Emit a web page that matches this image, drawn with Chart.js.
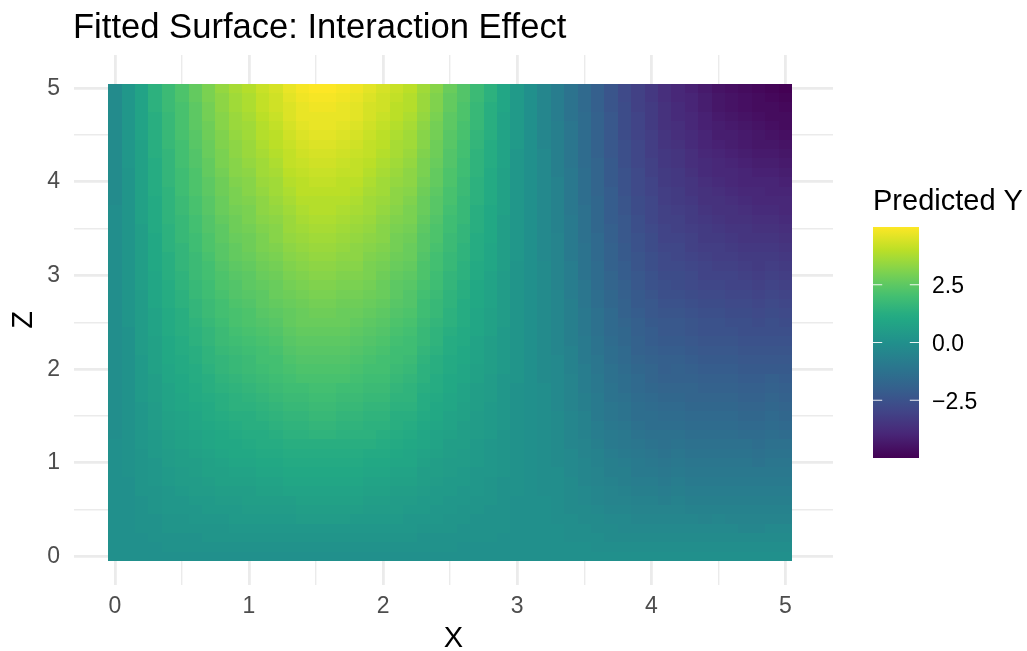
<!DOCTYPE html>
<html>
<head>
<meta charset="utf-8">
<script src="https://cdn.jsdelivr.net/npm/chart.js@4.4.1/dist/chart.umd.min.js"></script>
<style>
  html, body { margin: 0; padding: 0; background: #ffffff; }
  #wrap { width: 1027px; height: 651px; }
</style>
</head>
<body>
<div id="wrap"><canvas id="surface" width="1027" height="651"></canvas></div>
<script>
// grid of the fitted surface: columns = X, rows = Z
const xVals = [0, 0.1, 0.2, 0.3, 0.4, 0.5, 0.6, 0.7, 0.8, 0.9, 1, 1.1, 1.2, 1.3, 1.4, 1.5, 1.6, 1.7, 1.8, 1.9, 2, 2.1, 2.2, 2.3, 2.4, 2.5, 2.6, 2.7, 2.8, 2.9, 3, 3.1, 3.2, 3.3, 3.4, 3.5, 3.6, 3.7, 3.8, 3.9, 4, 4.1, 4.2, 4.3, 4.4, 4.5, 4.6, 4.7, 4.8, 4.9, 5];
const zVals = [0, 0.1, 0.2, 0.3, 0.4, 0.5, 0.6, 0.7, 0.8, 0.9, 1, 1.1, 1.2, 1.3, 1.4, 1.5, 1.6, 1.7, 1.8, 1.9, 2, 2.1, 2.2, 2.3, 2.4, 2.5, 2.6, 2.7, 2.8, 2.9, 3, 3.1, 3.2, 3.3, 3.4, 3.5, 3.6, 3.7, 3.8, 3.9, 4, 4.1, 4.2, 4.3, 4.4, 4.5, 4.6, 4.7, 4.8, 4.9, 5];

// predicted Y, one row per Z value (bottom row first)
const predY = [
  [0,0,0,0,0,0,0,0,0,0,0,0,0,0,0,0,0,0,0,0,0,0,0,0,0,0,0,0,0,0,0,0,0,0,0,0,0,0,0,0,0,0,0,0,0,0,0,0,0,0,0],
  [0,0,0,0,0.1,0.1,0.1,0.1,0.1,0.1,0.1,0.1,0.1,0.1,0.1,0.1,0.1,0.1,0.1,0.1,0.1,0.1,0.1,0.1,0.1,0.1,0,0,0,0,0,0,0,0,0,0,-0.1,-0.1,-0.1,-0.1,-0.1,-0.1,-0.1,-0.1,-0.1,-0.1,-0.1,-0.1,-0.1,-0.1,-0.1],
  [0,0,0,0.1,0.1,0.1,0.1,0.2,0.2,0.2,0.2,0.2,0.2,0.2,0.2,0.2,0.2,0.2,0.2,0.2,0.2,0.2,0.2,0.1,0.1,0.1,0.1,0.1,0.1,0,0,0,0,0,-0.1,-0.1,-0.1,-0.2,-0.2,-0.2,-0.2,-0.2,-0.2,-0.2,-0.2,-0.2,-0.2,-0.2,-0.2,-0.2,-0.2],
  [0,0,0.1,0.1,0.2,0.2,0.2,0.2,0.2,0.3,0.3,0.3,0.3,0.3,0.3,0.3,0.3,0.3,0.3,0.3,0.3,0.3,0.3,0.2,0.2,0.2,0.1,0.1,0.1,0.1,0,0,0,0,-0.1,-0.1,-0.2,-0.2,-0.3,-0.3,-0.3,-0.3,-0.3,-0.3,-0.3,-0.3,-0.3,-0.4,-0.4,-0.3,-0.3],
  [0,0,0.1,0.1,0.2,0.2,0.3,0.3,0.3,0.4,0.4,0.4,0.4,0.4,0.5,0.5,0.5,0.5,0.4,0.4,0.4,0.4,0.3,0.3,0.3,0.2,0.2,0.1,0.1,0.1,0,0,0,-0.1,-0.1,-0.2,-0.2,-0.3,-0.3,-0.4,-0.4,-0.4,-0.4,-0.4,-0.5,-0.4,-0.5,-0.5,-0.5,-0.5,-0.5],
  [0,0,0.1,0.2,0.3,0.3,0.3,0.4,0.4,0.4,0.5,0.5,0.5,0.5,0.6,0.6,0.6,0.6,0.6,0.5,0.5,0.5,0.4,0.4,0.3,0.3,0.2,0.2,0.1,0.1,0,0,0,-0.1,-0.2,-0.2,-0.3,-0.4,-0.4,-0.5,-0.5,-0.5,-0.5,-0.6,-0.6,-0.6,-0.6,-0.6,-0.6,-0.6,-0.6],
  [0,0,0.1,0.2,0.3,0.3,0.4,0.4,0.5,0.5,0.6,0.6,0.6,0.6,0.7,0.7,0.7,0.7,0.7,0.6,0.6,0.5,0.5,0.4,0.4,0.3,0.3,0.2,0.2,0.1,0,0,0,-0.1,-0.2,-0.3,-0.4,-0.5,-0.5,-0.6,-0.6,-0.7,-0.6,-0.7,-0.7,-0.7,-0.7,-0.7,-0.7,-0.7,-0.7],
  [0,0,0.2,0.2,0.3,0.4,0.5,0.5,0.6,0.6,0.6,0.7,0.7,0.8,0.8,0.8,0.8,0.8,0.8,0.7,0.7,0.6,0.6,0.5,0.4,0.4,0.3,0.3,0.2,0.1,0.1,0,-0.1,-0.1,-0.2,-0.3,-0.4,-0.5,-0.6,-0.7,-0.7,-0.8,-0.7,-0.8,-0.8,-0.8,-0.8,-0.8,-0.8,-0.8,-0.8],
  [0,0,0.2,0.3,0.4,0.5,0.5,0.6,0.7,0.7,0.7,0.8,0.8,0.9,0.9,0.9,0.9,0.9,0.9,0.8,0.8,0.7,0.7,0.6,0.5,0.4,0.4,0.3,0.2,0.1,0.1,0,-0.1,-0.1,-0.2,-0.4,-0.5,-0.6,-0.7,-0.8,-0.8,-0.9,-0.8,-0.9,-0.9,-0.9,-0.9,-0.9,-0.9,-0.9,-0.9],
  [0,0.1,0.2,0.3,0.4,0.5,0.6,0.7,0.7,0.8,0.8,0.9,0.9,1,1,1,1,1,1,0.9,0.9,0.8,0.8,0.6,0.6,0.5,0.4,0.3,0.3,0.2,0.1,0,-0.1,-0.1,-0.3,-0.4,-0.5,-0.7,-0.7,-0.9,-0.9,-1,-0.9,-1,-1,-1,-1,-1,-1,-1,-1],
  [0,0.1,0.2,0.3,0.5,0.6,0.6,0.7,0.8,0.9,0.9,1,1,1.1,1.1,1.1,1.1,1.1,1.1,1,1,0.9,0.9,0.7,0.6,0.5,0.5,0.4,0.3,0.2,0.1,0,-0.1,-0.2,-0.3,-0.4,-0.6,-0.7,-0.8,-0.9,-1,-1.1,-1,-1.1,-1.1,-1.1,-1.1,-1.1,-1.2,-1.1,-1.1],
  [0,0.1,0.2,0.4,0.5,0.6,0.7,0.8,0.9,1,1,1.1,1.1,1.2,1.2,1.2,1.2,1.2,1.2,1.1,1.1,1,0.9,0.8,0.7,0.6,0.5,0.4,0.3,0.2,0.1,0,-0.1,-0.2,-0.3,-0.5,-0.6,-0.8,-0.9,-1,-1.1,-1.2,-1.1,-1.2,-1.2,-1.2,-1.2,-1.2,-1.3,-1.2,-1.2],
  [0,0.1,0.3,0.4,0.6,0.7,0.8,0.9,1,1,1.1,1.2,1.2,1.3,1.3,1.3,1.3,1.3,1.3,1.3,1.2,1.1,1,0.9,0.8,0.6,0.6,0.4,0.3,0.2,0.1,0,-0.1,-0.2,-0.4,-0.5,-0.7,-0.9,-1,-1.1,-1.2,-1.3,-1.2,-1.3,-1.3,-1.3,-1.3,-1.3,-1.4,-1.3,-1.3],
  [-0.1,0.1,0.3,0.4,0.6,0.7,0.8,0.9,1,1.1,1.2,1.2,1.3,1.4,1.4,1.5,1.5,1.4,1.4,1.4,1.3,1.2,1.1,0.9,0.8,0.7,0.6,0.5,0.4,0.2,0.1,0,-0.1,-0.2,-0.4,-0.6,-0.8,-0.9,-1,-1.2,-1.3,-1.3,-1.3,-1.4,-1.4,-1.4,-1.4,-1.5,-1.5,-1.4,-1.5],
  [-0.1,0.1,0.3,0.5,0.7,0.8,0.9,1,1.1,1.2,1.3,1.3,1.4,1.5,1.5,1.6,1.6,1.5,1.5,1.4,1.4,1.3,1.2,1,0.9,0.8,0.6,0.5,0.4,0.3,0.1,0,-0.1,-0.2,-0.4,-0.6,-0.8,-1,-1.1,-1.3,-1.4,-1.4,-1.4,-1.5,-1.5,-1.5,-1.5,-1.6,-1.6,-1.5,-1.6],
  [-0.1,0.1,0.3,0.5,0.7,0.8,0.9,1.1,1.2,1.3,1.3,1.4,1.5,1.6,1.6,1.7,1.7,1.6,1.6,1.5,1.5,1.3,1.3,1.1,1,0.8,0.7,0.5,0.4,0.3,0.1,0,-0.1,-0.2,-0.4,-0.6,-0.9,-1.1,-1.2,-1.4,-1.4,-1.5,-1.5,-1.6,-1.6,-1.6,-1.6,-1.7,-1.7,-1.6,-1.7],
  [-0.1,0.1,0.3,0.5,0.8,0.9,1,1.1,1.3,1.4,1.4,1.5,1.6,1.7,1.7,1.8,1.8,1.7,1.7,1.6,1.6,1.4,1.4,1.2,1,0.9,0.7,0.6,0.4,0.3,0.1,0,-0.1,-0.3,-0.5,-0.7,-0.9,-1.1,-1.2,-1.4,-1.5,-1.6,-1.6,-1.7,-1.7,-1.7,-1.7,-1.8,-1.8,-1.7,-1.8],
  [-0.1,0.1,0.4,0.6,0.8,0.9,1.1,1.2,1.3,1.4,1.5,1.6,1.7,1.8,1.8,1.9,1.9,1.8,1.8,1.7,1.7,1.5,1.5,1.2,1.1,0.9,0.8,0.6,0.5,0.3,0.1,0,-0.1,-0.3,-0.5,-0.7,-0.9,-1.2,-1.3,-1.5,-1.6,-1.7,-1.7,-1.8,-1.8,-1.8,-1.8,-1.9,-1.9,-1.8,-1.9],
  [-0.1,0.1,0.4,0.6,0.8,1,1.1,1.3,1.4,1.5,1.6,1.7,1.8,1.9,1.9,2,2,1.9,1.9,1.8,1.8,1.6,1.5,1.3,1.2,1,0.8,0.6,0.5,0.3,0.1,0,-0.1,-0.3,-0.5,-0.8,-1,-1.2,-1.4,-1.6,-1.7,-1.8,-1.8,-1.8,-1.9,-1.9,-1.9,-2,-2,-1.9,-2],
  [-0.1,0.1,0.4,0.6,0.9,1,1.2,1.3,1.5,1.6,1.7,1.8,1.9,2,2.1,2.1,2.1,2.1,2,1.9,1.9,1.7,1.6,1.4,1.2,1,0.9,0.7,0.5,0.3,0.2,0,-0.2,-0.3,-0.5,-0.8,-1,-1.3,-1.4,-1.6,-1.8,-1.9,-1.9,-1.9,-2,-2,-2,-2.1,-2.1,-2,-2.1],
  [-0.1,0.1,0.4,0.7,0.9,1.1,1.2,1.4,1.6,1.7,1.8,1.9,2,2.1,2.2,2.2,2.2,2.2,2.1,2,2,1.8,1.7,1.4,1.3,1.1,0.9,0.7,0.6,0.4,0.2,0,-0.2,-0.3,-0.6,-0.8,-1.1,-1.3,-1.5,-1.7,-1.8,-2,-1.9,-2,-2.1,-2.1,-2.1,-2.2,-2.2,-2.2,-2.2],
  [-0.1,0.1,0.4,0.7,1,1.1,1.3,1.5,1.6,1.7,1.8,2,2,2.2,2.3,2.3,2.3,2.3,2.2,2.1,2,1.9,1.8,1.5,1.3,1.1,1,0.8,0.6,0.4,0.2,0,-0.2,-0.3,-0.6,-0.9,-1.1,-1.4,-1.6,-1.8,-1.9,-2,-2,-2.1,-2.2,-2.2,-2.2,-2.3,-2.3,-2.3,-2.3],
  [-0.1,0.1,0.5,0.7,1,1.2,1.3,1.5,1.7,1.8,1.9,2,2.1,2.3,2.4,2.4,2.4,2.4,2.3,2.2,2.1,1.9,1.9,1.6,1.4,1.2,1,0.8,0.6,0.4,0.2,0,-0.2,-0.4,-0.6,-0.9,-1.2,-1.4,-1.6,-1.9,-2,-2.1,-2.1,-2.2,-2.3,-2.3,-2.3,-2.4,-2.4,-2.4,-2.4],
  [-0.1,0.1,0.5,0.7,1,1.2,1.4,1.6,1.8,1.9,2,2.1,2.2,2.4,2.5,2.5,2.5,2.5,2.4,2.3,2.2,2,1.9,1.7,1.5,1.2,1.1,0.8,0.6,0.4,0.2,0,-0.2,-0.4,-0.7,-0.9,-1.2,-1.5,-1.7,-1.9,-2.1,-2.2,-2.2,-2.3,-2.4,-2.4,-2.4,-2.5,-2.5,-2.5,-2.5],
  [-0.1,0.1,0.5,0.8,1.1,1.3,1.4,1.6,1.8,2,2.1,2.2,2.3,2.5,2.6,2.6,2.6,2.6,2.5,2.4,2.3,2.1,2,1.7,1.5,1.3,1.1,0.9,0.7,0.4,0.2,0,-0.2,-0.4,-0.7,-1,-1.3,-1.6,-1.7,-2,-2.1,-2.3,-2.3,-2.4,-2.5,-2.5,-2.5,-2.6,-2.6,-2.6,-2.6],
  [-0.1,0.2,0.5,0.8,1.1,1.3,1.5,1.7,1.9,2.1,2.2,2.3,2.4,2.6,2.7,2.7,2.7,2.7,2.6,2.5,2.4,2.2,2.1,1.8,1.6,1.4,1.2,0.9,0.7,0.5,0.2,0,-0.2,-0.4,-0.7,-1,-1.3,-1.6,-1.8,-2,-2.2,-2.3,-2.3,-2.4,-2.5,-2.5,-2.6,-2.6,-2.7,-2.6,-2.7],
  [-0.1,0.2,0.5,0.8,1.1,1.3,1.6,1.8,2,2.1,2.2,2.4,2.5,2.6,2.7,2.8,2.8,2.7,2.7,2.6,2.5,2.3,2.2,1.9,1.7,1.4,1.2,0.9,0.7,0.5,0.2,0,-0.2,-0.4,-0.7,-1,-1.3,-1.6,-1.9,-2.1,-2.3,-2.4,-2.4,-2.5,-2.6,-2.6,-2.7,-2.7,-2.8,-2.7,-2.8],
  [-0.1,0.2,0.5,0.9,1.2,1.4,1.6,1.8,2,2.2,2.3,2.5,2.6,2.7,2.8,2.9,2.9,2.8,2.8,2.7,2.6,2.4,2.3,1.9,1.7,1.5,1.2,1,0.8,0.5,0.2,0,-0.2,-0.4,-0.7,-1.1,-1.4,-1.7,-1.9,-2.2,-2.3,-2.5,-2.5,-2.6,-2.7,-2.7,-2.8,-2.8,-2.9,-2.8,-2.9],
  [-0.1,0.2,0.5,0.9,1.2,1.4,1.7,1.9,2.1,2.3,2.4,2.5,2.7,2.8,2.9,3,3,2.9,2.9,2.8,2.7,2.5,2.3,2,1.8,1.5,1.3,1,0.8,0.5,0.2,0,-0.2,-0.4,-0.8,-1.1,-1.4,-1.7,-2,-2.2,-2.4,-2.6,-2.6,-2.7,-2.8,-2.8,-2.9,-2.9,-3,-2.9,-3],
  [-0.1,0.2,0.6,0.9,1.2,1.5,1.7,1.9,2.2,2.3,2.5,2.6,2.7,2.9,3,3.1,3.1,3,3,2.9,2.7,2.5,2.4,2.1,1.9,1.6,1.3,1,0.8,0.5,0.2,0,-0.2,-0.5,-0.8,-1.1,-1.5,-1.8,-2,-2.3,-2.5,-2.6,-2.7,-2.8,-2.9,-2.9,-3,-3,-3.1,-3,-3.1],
  [-0.1,0.2,0.6,0.9,1.3,1.5,1.8,2,2.2,2.4,2.5,2.7,2.8,3,3.1,3.2,3.2,3.1,3.1,3,2.8,2.6,2.5,2.2,1.9,1.6,1.4,1.1,0.8,0.5,0.2,0,-0.2,-0.5,-0.8,-1.2,-1.5,-1.8,-2.1,-2.3,-2.5,-2.7,-2.7,-2.8,-3,-3,-3,-3.1,-3.2,-3.1,-3.2],
  [-0.1,0.2,0.6,1,1.3,1.6,1.8,2,2.3,2.5,2.6,2.8,2.9,3.1,3.2,3.3,3.3,3.2,3.2,3,2.9,2.7,2.6,2.2,2,1.7,1.4,1.1,0.9,0.6,0.2,0,-0.2,-0.5,-0.8,-1.2,-1.5,-1.9,-2.1,-2.4,-2.6,-2.8,-2.8,-2.9,-3,-3.1,-3.1,-3.2,-3.3,-3.2,-3.3],
  [-0.1,0.2,0.6,1,1.3,1.6,1.8,2.1,2.4,2.6,2.7,2.9,3,3.2,3.3,3.4,3.4,3.3,3.3,3.1,3,2.8,2.7,2.3,2,1.7,1.5,1.2,0.9,0.6,0.3,0,-0.3,-0.5,-0.9,-1.2,-1.6,-1.9,-2.2,-2.4,-2.6,-2.8,-2.9,-3,-3.1,-3.2,-3.2,-3.3,-3.3,-3.3,-3.4],
  [-0.1,0.2,0.6,1,1.4,1.6,1.9,2.2,2.4,2.6,2.8,3,3.1,3.3,3.4,3.5,3.5,3.4,3.3,3.2,3.1,2.9,2.7,2.4,2.1,1.8,1.5,1.2,0.9,0.6,0.3,0,-0.3,-0.5,-0.9,-1.2,-1.6,-1.9,-2.2,-2.5,-2.7,-2.9,-2.9,-3.1,-3.2,-3.2,-3.3,-3.4,-3.4,-3.4,-3.5],
  [-0.1,0.2,0.6,1,1.4,1.7,1.9,2.2,2.5,2.7,2.8,3,3.2,3.4,3.5,3.6,3.6,3.5,3.4,3.3,3.2,2.9,2.8,2.4,2.2,1.8,1.6,1.2,1,0.6,0.3,0,-0.3,-0.5,-0.9,-1.3,-1.6,-2,-2.3,-2.5,-2.7,-3,-3,-3.1,-3.3,-3.3,-3.4,-3.5,-3.5,-3.5,-3.6],
  [-0.1,0.2,0.6,1.1,1.4,1.7,2,2.3,2.5,2.8,2.9,3.1,3.2,3.5,3.6,3.7,3.7,3.6,3.5,3.4,3.2,3,2.9,2.5,2.2,1.9,1.6,1.3,1,0.6,0.3,0,-0.3,-0.6,-0.9,-1.3,-1.7,-2,-2.3,-2.6,-2.8,-3,-3.1,-3.2,-3.3,-3.4,-3.5,-3.5,-3.6,-3.6,-3.7],
  [-0.1,0.2,0.7,1.1,1.5,1.7,2,2.3,2.6,2.8,3,3.2,3.3,3.5,3.7,3.8,3.8,3.7,3.6,3.5,3.3,3.1,3,2.6,2.3,1.9,1.7,1.3,1,0.6,0.3,0,-0.3,-0.6,-0.9,-1.3,-1.7,-2.1,-2.3,-2.6,-2.9,-3.1,-3.1,-3.3,-3.4,-3.5,-3.6,-3.6,-3.7,-3.7,-3.8],
  [-0.1,0.2,0.7,1.1,1.5,1.8,2.1,2.4,2.7,2.9,3,3.3,3.4,3.6,3.8,3.9,3.9,3.8,3.7,3.6,3.4,3.2,3,2.7,2.4,2,1.7,1.3,1,0.7,0.3,0,-0.3,-0.6,-1,-1.3,-1.7,-2.1,-2.4,-2.7,-2.9,-3.1,-3.2,-3.3,-3.5,-3.6,-3.6,-3.7,-3.8,-3.8,-3.9],
  [-0.2,0.2,0.7,1.1,1.5,1.8,2.1,2.4,2.7,3,3.1,3.3,3.5,3.7,3.9,3.9,3.9,3.9,3.8,3.6,3.5,3.3,3.1,2.7,2.4,2.1,1.7,1.4,1.1,0.7,0.3,0,-0.3,-0.6,-1,-1.4,-1.7,-2.1,-2.4,-2.7,-2.9,-3.2,-3.3,-3.4,-3.6,-3.6,-3.7,-3.8,-3.9,-3.9,-3.9],
  [-0.2,0.2,0.7,1.2,1.5,1.9,2.2,2.5,2.8,3,3.2,3.4,3.6,3.8,4,4,4,4,3.9,3.7,3.6,3.3,3.2,2.8,2.5,2.1,1.8,1.4,1.1,0.7,0.3,0,-0.3,-0.6,-1,-1.4,-1.8,-2.1,-2.5,-2.8,-3,-3.2,-3.3,-3.5,-3.6,-3.7,-3.8,-3.9,-3.9,-4,-4],
  [-0.2,0.2,0.7,1.2,1.6,1.9,2.2,2.5,2.8,3.1,3.2,3.5,3.6,3.9,4,4.1,4.1,4,4,3.8,3.6,3.4,3.3,2.9,2.6,2.2,1.8,1.4,1.1,0.7,0.3,0,-0.3,-0.6,-1,-1.4,-1.8,-2.2,-2.5,-2.8,-3,-3.3,-3.4,-3.5,-3.7,-3.8,-3.9,-4,-4,-4,-4.1],
  [-0.2,0.2,0.7,1.2,1.6,1.9,2.2,2.6,2.9,3.2,3.3,3.6,3.7,4,4.1,4.2,4.2,4.1,4.1,3.9,3.7,3.5,3.3,3,2.6,2.2,1.9,1.5,1.1,0.7,0.3,0,-0.3,-0.7,-1,-1.4,-1.8,-2.2,-2.5,-2.8,-3.1,-3.3,-3.4,-3.6,-3.8,-3.9,-3.9,-4,-4.1,-4.1,-4.2],
  [-0.2,0.3,0.7,1.2,1.6,2,2.3,2.6,3,3.2,3.4,3.6,3.8,4.1,4.2,4.3,4.3,4.2,4.1,4,3.8,3.6,3.4,3,2.7,2.3,1.9,1.5,1.2,0.8,0.3,0,-0.3,-0.7,-1.1,-1.5,-1.8,-2.2,-2.6,-2.9,-3.1,-3.4,-3.5,-3.7,-3.8,-3.9,-4,-4.1,-4.2,-4.2,-4.3],
  [-0.2,0.3,0.7,1.3,1.6,2,2.3,2.7,3,3.3,3.5,3.7,3.9,4.1,4.3,4.4,4.4,4.3,4.2,4.1,3.9,3.7,3.5,3.1,2.8,2.3,2,1.5,1.2,0.8,0.3,0,-0.3,-0.7,-1.1,-1.5,-1.9,-2.3,-2.6,-2.9,-3.2,-3.4,-3.5,-3.7,-3.9,-4,-4.1,-4.2,-4.3,-4.3,-4.4],
  [-0.2,0.3,0.7,1.3,1.7,2,2.4,2.7,3.1,3.3,3.5,3.8,4,4.2,4.4,4.5,4.5,4.4,4.3,4.1,4,3.7,3.6,3.2,2.8,2.4,2,1.6,1.2,0.8,0.4,0,-0.4,-0.7,-1.1,-1.5,-1.9,-2.3,-2.6,-2.9,-3.2,-3.5,-3.6,-3.8,-4,-4.1,-4.2,-4.3,-4.4,-4.4,-4.5],
  [-0.2,0.3,0.8,1.3,1.7,2.1,2.4,2.8,3.1,3.4,3.6,3.9,4,4.3,4.5,4.6,4.6,4.5,4.4,4.2,4,3.8,3.6,3.2,2.9,2.4,2.1,1.6,1.3,0.8,0.4,0,-0.4,-0.7,-1.1,-1.5,-1.9,-2.3,-2.7,-3,-3.2,-3.5,-3.7,-3.8,-4,-4.2,-4.2,-4.3,-4.4,-4.5,-4.6],
  [-0.2,0.3,0.8,1.3,1.7,2.1,2.5,2.8,3.2,3.5,3.6,3.9,4.1,4.4,4.6,4.7,4.7,4.6,4.5,4.3,4.1,3.9,3.7,3.3,2.9,2.5,2.1,1.7,1.3,0.8,0.4,0,-0.4,-0.7,-1.1,-1.5,-1.9,-2.3,-2.7,-3,-3.3,-3.6,-3.7,-3.9,-4.1,-4.2,-4.3,-4.4,-4.5,-4.6,-4.7],
  [-0.2,0.3,0.8,1.3,1.7,2.1,2.5,2.9,3.2,3.5,3.7,4,4.2,4.5,4.7,4.7,4.7,4.7,4.6,4.4,4.2,4,3.8,3.4,3,2.5,2.2,1.7,1.3,0.8,0.4,0,-0.4,-0.8,-1.2,-1.5,-1.9,-2.3,-2.7,-3,-3.3,-3.6,-3.8,-3.9,-4.1,-4.3,-4.4,-4.5,-4.6,-4.7,-4.7],
  [-0.2,0.3,0.8,1.4,1.8,2.1,2.5,2.9,3.3,3.6,3.8,4.1,4.3,4.5,4.7,4.8,4.8,4.7,4.6,4.4,4.3,4,3.9,3.5,3.1,2.6,2.2,1.7,1.3,0.9,0.4,0,-0.4,-0.8,-1.2,-1.6,-2,-2.4,-2.7,-3.1,-3.3,-3.6,-3.8,-4,-4.2,-4.4,-4.5,-4.6,-4.7,-4.7,-4.8],
  [-0.2,0.3,0.8,1.4,1.8,2.2,2.6,3,3.3,3.6,3.8,4.1,4.3,4.6,4.8,4.9,4.9,4.8,4.7,4.5,4.3,4.1,3.9,3.5,3.1,2.6,2.3,1.8,1.4,0.9,0.4,0,-0.4,-0.8,-1.2,-1.6,-2,-2.4,-2.8,-3.1,-3.4,-3.7,-3.9,-4,-4.2,-4.4,-4.5,-4.6,-4.7,-4.8,-4.9],
  [-0.2,0.3,0.8,1.4,1.8,2.2,2.6,3,3.4,3.7,3.9,4.2,4.4,4.7,4.9,5,5,4.9,4.8,4.6,4.4,4.2,4,3.6,3.2,2.7,2.3,1.8,1.4,0.9,0.4,0,-0.4,-0.8,-1.2,-1.6,-2,-2.4,-2.8,-3.1,-3.4,-3.7,-3.9,-4.1,-4.3,-4.5,-4.6,-4.7,-4.8,-4.9,-5]
];

// axis ticks (grid at every half unit, labels at integers)
const gridTicks = [0, 0.5, 1, 1.5, 2, 2.5, 3, 3.5, 4, 4.5, 5];
const legendTicks = [2.5, 0, -2.5];
const legendLabels = ['2.5', '0.0', '\u22122.5'];

const FONT = '"Liberation Sans", Arial, Helvetica, sans-serif';

// viridis colour ramp
const viridisStops = [
  [0, '#440154'], [0.1, '#482576'], [0.125, '#472D7B'], [0.2, '#414487'],
  [0.25, '#3B528B'], [0.3, '#35608D'], [0.375, '#2C728E'], [0.4, '#2A788E'],
  [0.5, '#21908C'], [0.6, '#22A884'], [0.625, '#27AD81'], [0.7, '#43BF71'],
  [0.75, '#5DC863'], [0.8, '#7AD151'], [0.875, '#AADC32'], [0.9, '#BBDF27'],
  [1, '#FDE725']
];

function hexToRgb(h) {
  return [parseInt(h.slice(1, 3), 16), parseInt(h.slice(3, 5), 16), parseInt(h.slice(5, 7), 16)];
}

function viridis(t) {
  t = Math.max(0, Math.min(1, t));
  for (let k = 1; k < viridisStops.length; k++) {
    const [t1, c1] = viridisStops[k];
    if (t <= t1) {
      const [t0, c0] = viridisStops[k - 1];
      const f = (t - t0) / (t1 - t0);
      const a = hexToRgb(c0), b = hexToRgb(c1);
      const r = Math.round(a[0] + (b[0] - a[0]) * f);
      const g = Math.round(a[1] + (b[1] - a[1]) * f);
      const bl = Math.round(a[2] + (b[2] - a[2]) * f);
      return `rgb(${r},${g},${bl})`;
    }
  }
  return viridisStops[viridisStops.length - 1][1];
}

const allVals = predY.flat();
const vMin = Math.min(...allVals);
const vMax = Math.max(...allVals);

// cells for the dataset
const cells = [];
zVals.forEach((z, j) => {
  xVals.forEach((x, i) => {
    cells.push({ x: x, y: z, v: predY[j][i] });
  });
});

// paint each tile through the chart's x / y scales
const tilePlugin = {
  id: 'tiles',
  beforeDatasetsDraw(chart) {
    const { ctx, scales: { x, y } } = chart;
    const hx = (xVals[1] - xVals[0]) / 2;
    const hz = (zVals[1] - zVals[0]) / 2;
    ctx.save();
    cells.forEach(c => {
      const left = Math.round(x.getPixelForValue(c.x - hx));
      const right = Math.round(x.getPixelForValue(c.x + hx));
      const top = Math.round(y.getPixelForValue(c.y + hz));
      const bottom = Math.round(y.getPixelForValue(c.y - hz));
      ctx.fillStyle = viridis((c.v - vMin) / (vMax - vMin));
      ctx.fillRect(left, top, right - left, bottom - top);
    });
    ctx.restore();
  }
};

// title, axis titles and colourbar legend
const decorPlugin = {
  id: 'decor',
  afterDraw(chart) {
    const { ctx, chartArea } = chart;
    ctx.save();
    ctx.fillStyle = '#000000';
    ctx.textBaseline = 'alphabetic';

    ctx.font = `34.6px ${FONT}`;
    ctx.textAlign = 'left';
    ctx.fillText('Fitted Surface: Interaction Effect', 73, 38);

    ctx.font = `29px ${FONT}`;
    ctx.textAlign = 'center';
    ctx.fillText('X', (chartArea.left + chartArea.right) / 2, 647);

    ctx.save();
    ctx.translate(32, (chartArea.top + chartArea.bottom) / 2);
    ctx.rotate(-Math.PI / 2);
    ctx.fillText('Z', 0, 0);
    ctx.restore();

    // legend
    ctx.textAlign = 'left';
    ctx.fillText('Predicted Y', 873, 210);

    const barL = 873, barW = 46, barT = 227, barH = 231;
    const grad = ctx.createLinearGradient(0, barT + barH, 0, barT);
    viridisStops.forEach(([t, c]) => grad.addColorStop(t, c));
    ctx.fillStyle = grad;
    ctx.fillRect(barL, barT, barW, barH);

    ctx.strokeStyle = 'rgba(255,255,255,0.9)';
    ctx.lineWidth = 1.2;
    ctx.font = `23px ${FONT}`;
    ctx.fillStyle = '#000000';
    legendTicks.forEach((v, k) => {
      const py = barT + barH - (v - vMin) / (vMax - vMin) * barH;
      ctx.beginPath();
      ctx.moveTo(barL, py); ctx.lineTo(barL + barW / 5, py);
      ctx.moveTo(barL + barW - barW / 5, py); ctx.lineTo(barL + barW, py);
      ctx.stroke();
      ctx.fillText(legendLabels[k], 932, py + 8.3);
    });
    ctx.restore();
  }
};

function axisOpts(isX) {
  return {
    type: 'linear',
    min: -0.305,
    max: 5.355,
    afterFit: s => { if (isX) s.height = 66; else s.width = 74; },
    afterBuildTicks: s => { s.ticks = gridTicks.map(v => ({ value: v })); },
    ticks: {
      autoSkip: false,
      maxRotation: 0,
      padding: isX ? 8 : 14,
      color: '#4d4d4d',
      font: { family: FONT, size: 23 },
      callback: v => Number.isInteger(v) ? String(v) : ''
    },
    grid: {
      color: '#ebebeb',
      lineWidth: c => (c.tick && Number.isInteger(c.tick.value)) ? 2.8 : 1.4,
      drawTicks: false
    },
    border: { display: false }
  };
}

new Chart(document.getElementById('surface').getContext('2d'), {
  type: 'scatter',
  data: {
    datasets: [{
      label: 'Predicted Y',
      data: cells,
      pointRadius: 0,
      pointHoverRadius: 0
    }]
  },
  options: {
    responsive: false,
    animation: false,
    events: [],
    layout: { padding: { top: 55, right: 194, left: 0, bottom: 0 } },
    plugins: {
      legend: { display: false },
      tooltip: { enabled: false },
      title: { display: false }
    },
    scales: {
      x: axisOpts(true),
      y: axisOpts(false)
    }
  },
  plugins: [tilePlugin, decorPlugin]
});
</script>
</body>
</html>
